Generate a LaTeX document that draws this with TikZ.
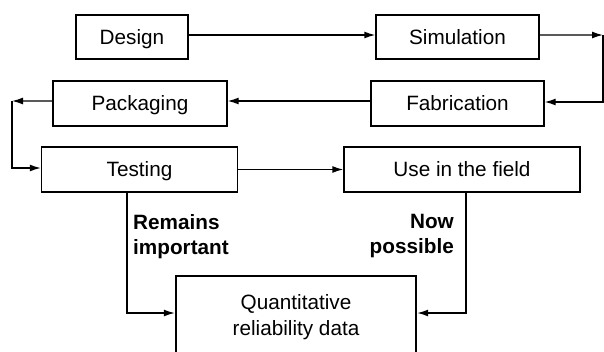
\documentclass[tikz,border=0pt]{standalone}
\usepackage{fontspec}
\setmainfont{Liberation Sans}
\usetikzlibrary{arrows.meta}
\begin{document}
\begin{tikzpicture}[x=1bp,y=-1bp,
  box/.style={draw,line width=1.4bp,rectangle,inner sep=0pt,font=\fontsize{20.8}{25.5}\selectfont,text height=14.8bp,text depth=0bp},
  conn/.style={line width=1.4bp,-{Latex[length=11bp,width=7bp]}},
  lbl/.style={font=\fontsize{20.8}{25}\selectfont\bfseries,inner sep=0pt}]
\useasboundingbox (0,0) rectangle (604,351);
\node[box,minimum width=112bp,minimum height=44bp] (des) at (132,37) {Design};
\node[box,minimum width=163bp,minimum height=44bp] (sim) at (457.5,37) {Simulation};
\node[box,minimum width=174bp,minimum height=45bp] (pac) at (140,103.5) {Packaging};
\node[box,minimum width=173bp,minimum height=45bp] (fab) at (457.5,103.5) {Fabrication};
\node[box,minimum width=196bp,minimum height=45bp] (tes) at (139.5,169.5) {Testing};
\node[box,minimum width=236bp,minimum height=45bp] (use) at (462,169.5) {Use in the field};
\node[draw,line width=2.4bp,inner sep=0pt,minimum width=240bp,minimum height=82bp,font=\fontsize{20.8}{26}\selectfont,align=center] (qua) at (296,317) {Quantitative\\reliability data};
\coordinate (c1) at (603,35);
\coordinate (c2) at (12,101);
\draw[conn] ([yshift=2bp]des.east) -- ([yshift=2bp]sim.west);
\draw[conn] ([yshift=2bp]sim.east) -- (c1);
\draw[conn] (c1) |- ([yshift=1.5bp]fab.east);
\draw[conn] ([yshift=2.5bp]fab.west) -- ([yshift=2.5bp]pac.east);
\draw[conn] ([yshift=2.5bp]pac.west) -- (c2);
\draw[conn] (c2) |- ([yshift=1.5bp]tes.west);
\draw[conn] (tes.east) -- (use.west);
\draw[conn] (tes.south -| 127,0) |- ([yshift=4bp]qua.west);
\draw[conn] (use.south -| 466,0) |- ([yshift=4bp]qua.east);
\node[lbl,anchor=north west,align=left] (l1) at (133,214) {Remains\\important};
\node[lbl,anchor=north east,align=right] (l2) at (454,214) {Now\\possible};
\end{tikzpicture}
\end{document}
